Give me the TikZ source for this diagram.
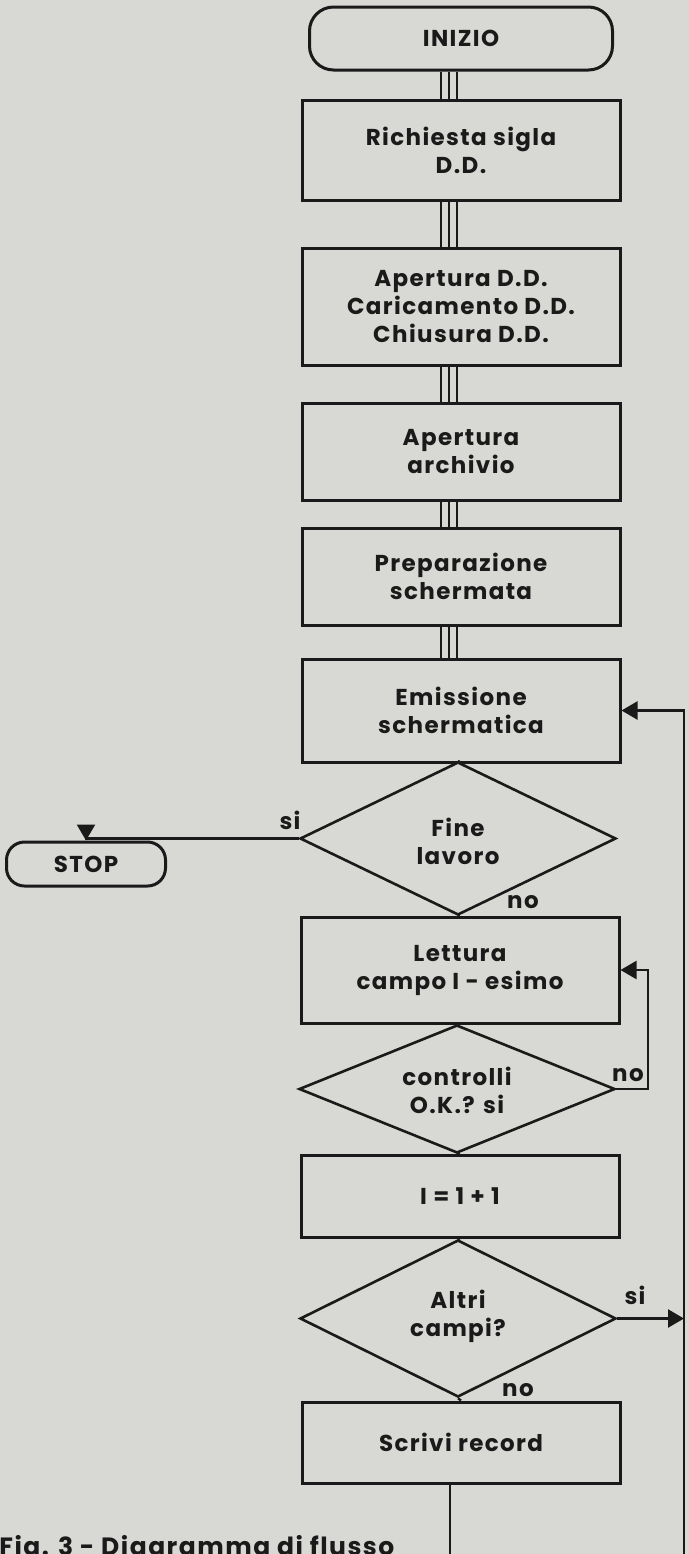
\documentclass[tikz,border=0pt]{standalone}
\usepackage{fontspec}
\setmainfont{Poppins}[LetterSpace=6]
\usetikzlibrary{shapes.geometric,arrows.meta,calc}
\definecolor{paper}{RGB}{216,217,212}
\definecolor{ink}{RGB}{26,26,26}
\begin{document}
\begin{tikzpicture}[x=0.5pt,y=-0.5pt,
  every node/.style={font=\bfseries\fontsize{11.5}{14}\selectfont, text=ink},
  proc/.style={draw=ink, line width=1.5pt, rectangle, minimum width=159pt, align=center, inner sep=0pt},
  dec/.style={draw=ink, line width=1.3pt, diamond, minimum width=158pt, inner sep=0pt},
  dectext/.style={align=center, inner sep=0pt},
  term/.style={draw=ink, line width=1.5pt, rectangle, rounded corners=12pt, align=center, inner sep=0pt},
  conn/.style={draw=ink, line width=1.2pt},
  tri/.style={draw=ink, line width=1pt},
  arr/.style={conn, -{Triangle[length=8pt,width=9pt]}},
  lbl/.style={inner sep=0pt}]
\useasboundingbox (0,0) rectangle (689,1554);
\fill[paper] (0,0) rectangle (689,1554);

\node[term, minimum width=151.5pt, minimum height=31.5pt] (inizio) at (461,38.5) {INIZIO};
\node[proc, minimum height=50pt] (rich) at (461,150) {Richiesta sigla\\D.D.};
\node[proc, minimum height=58.5pt] (apert) at (461,306.5) {Apertura D.D.\\Caricamento D.D.\\Chiusura D.D.};
\node[proc, minimum height=48.5pt] (arch) at (461,451.5) {Apertura\\archivio};
\node[proc, minimum height=48.5pt] (prep) at (461,576.5) {Preparazione\\schermata};
\node[proc, minimum height=51.5pt] (emis) at (461,710.5) {Emissione\\schermatica};
\node[dec, minimum height=76.5pt] (fine) at (458,838.5) {};
\node[dectext] (finet) at (458,841) {Fine\\lavoro};
\node[term, minimum width=79.5pt, minimum height=22pt, rounded corners=9pt] (stop) at (86,864) {STOP};
\node[proc, minimum height=53pt] (lett) at (460,970) {Lettura\\campo I - esimo};
\node[dec, minimum height=64pt] (ctrl) at (457,1089) {};
\node[dectext] (ctrlt) at (457,1090) {controlli\\O.K.? si};
\node[proc, minimum height=41pt] (incr) at (460,1196) {I = 1 + 1};
\node[dec, minimum height=78.5pt] (altri) at (458,1318.5) {};
\node[dectext] (altrit) at (458,1316.5) {Altri\\campi?};
\node[proc, minimum height=40.5pt] (scrivi) at (461,1442.5) {Scrivi record};

\node[lbl] (lsi1) at (290,820) {si};
\node[lbl] (lno1) at (523,902) {no};
\node[lbl] (lno2) at (628,1075) {no};
\node[lbl] (lsi2) at (635,1295) {si};
\node[lbl] (lno3) at (518,1390) {no};
\node[lbl, anchor=base west, font=\bfseries\fontsize{12.5}{14}\selectfont] (cap) at (-1,1555) {Fig. 3 - Diagramma di flusso};

\foreach \a/\b in {inizio/rich, rich/apert, apert/arch, arch/prep, prep/emis}{
  \foreach \s in {-10pt,-6pt,-2pt}{
    \draw[tri] ([xshift=\s]\a.south) -- ([xshift=\s]\b.north);
  }
}

\draw[conn] (emis.south) -- (fine.north);
\draw[arr] (fine.west) -| (stop.north);
\draw[conn] (fine.south) -- (lett.north);
\draw[conn] (lett.south) -- (ctrl.north);
\coordinate (nloop) at (648,1089);
\draw[arr] (ctrl.east) -- (nloop) |- (lett.east);
\draw[conn] (ctrl.south) -- (incr.north);
\draw[conn] (incr.south) -- (altri.north);
\draw[conn] (altri.south) -- (scrivi.north);
\coordinate (loopB) at (450,1590);
\coordinate (loopR) at (684,1590);
\draw[arr] ([xshift=-5.5pt]scrivi.south) -- (loopB) -- (loopR) |- (emis.east);
\draw[arr] (altri.east) -- (altri.east -| loopR);
\end{tikzpicture}
\end{document}
